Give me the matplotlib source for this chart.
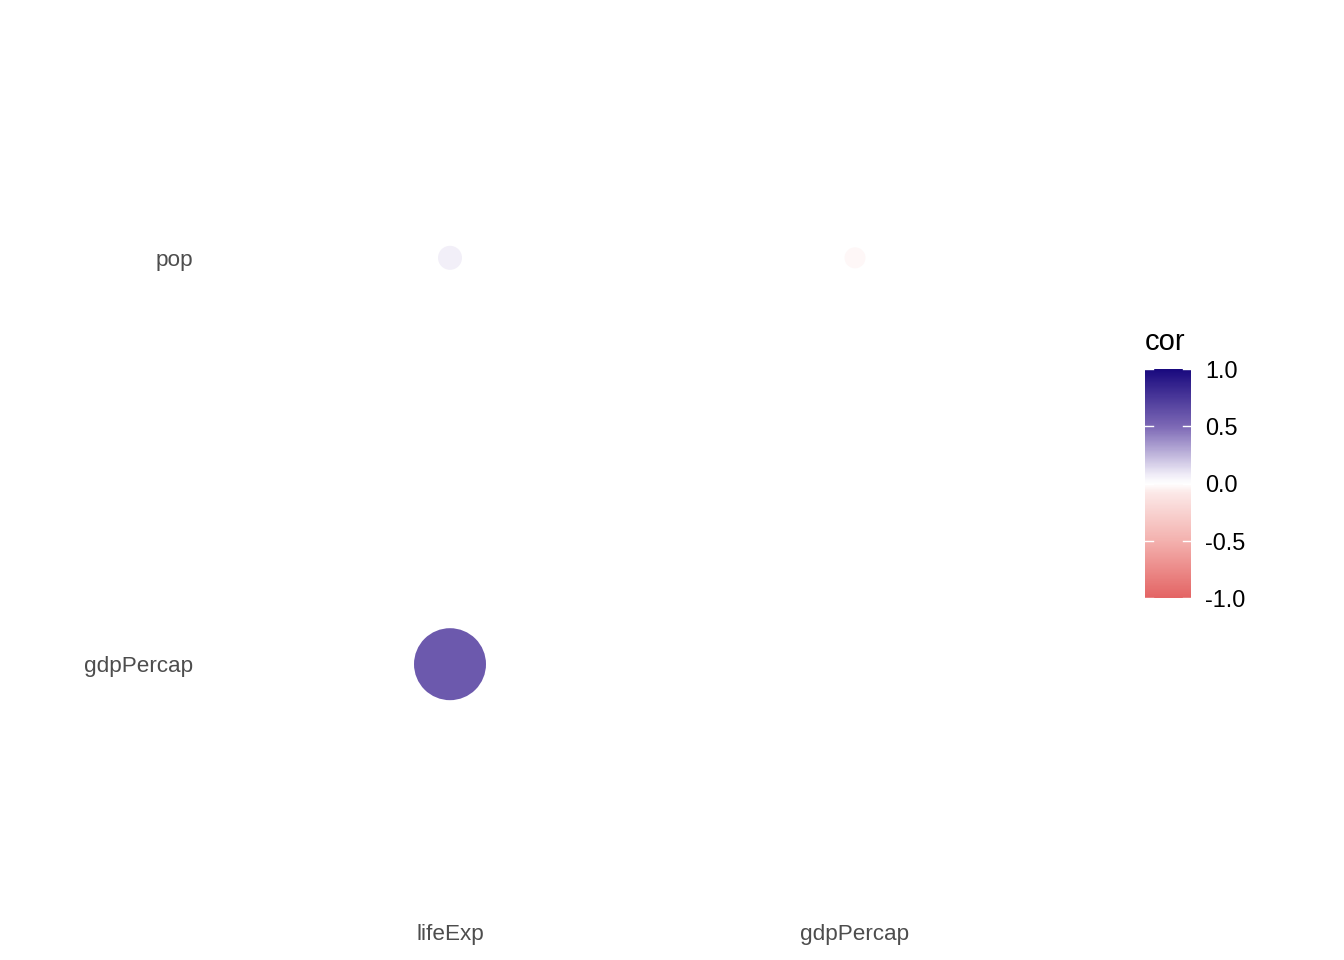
import numpy as np
import matplotlib
matplotlib.use("Agg")
import matplotlib.pyplot as plt
from matplotlib.colors import LinearSegmentedColormap, Normalize

plt.rcParams['font.family'] = ['Liberation Sans', 'DejaVu Sans']

# correlation pairs (gapminder)
x_labels = ["lifeExp", "gdpPercap"]
y_labels = ["gdpPercap", "pop"]
pair_x = ["lifeExp", "gdpPercap", "lifeExp"]
pair_y = ["pop", "pop", "gdpPercap"]
cor = np.array([0.065, -0.026, 0.584])

ticks = [-1.0, -0.5, 0.0, 0.5, 1.0]

cmap = LinearSegmentedColormap.from_list(
    "cor", [(0.0, "#E46565"), (0.25, "#F4B2AF"), (0.46, "#FCE9E8"),
            (0.5, "#FFFFFF"), (0.54, "#EFECF7"),
            (0.75, "#7D69B6"), (1.0, "#1A0A7F")])
norm = Normalize(-1, 1)

W, H = 1344, 960
fig = plt.figure(figsize=(W / 100, H / 100), dpi=100)
ax = fig.add_axes([207 / W, 52 / H, (1098 - 207) / W, (908 - 14) / H])

xi = [x_labels.index(v) for v in pair_x]
yi = [y_labels.index(v) for v in pair_y]
sizes = np.maximum(228, 4600 * np.abs(cor))
ax.scatter(xi, yi, s=sizes, c=cor, cmap=cmap, norm=norm, linewidths=0, zorder=3)

ax.set_xlim(-0.6, 1.6)
ax.set_ylim(-0.6, 1.6)
ax.set_xticks(range(len(x_labels)))
ax.set_xticklabels(x_labels)
ax.set_yticks(range(len(y_labels)))
ax.set_yticklabels(y_labels)
ax.tick_params(length=0, labelsize=16.2, labelcolor="#4D4D4D")
ax.tick_params(axis='x', pad=11.5)
ax.tick_params(axis='y', pad=10)
for s in ax.spines.values():
    s.set_visible(False)

# colourbar
cax = fig.add_axes([1145 / W, (H - 598) / H, 46 / W, 229 / H])
grad = np.linspace(-1, 1, 300).reshape(-1, 1)
cax.imshow(grad, cmap=cmap, norm=norm, aspect='auto', origin='lower',
           extent=[0, 1, -1, 1])
cax.set_xlim(0, 1)
cax.set_ylim(-1, 1)
for t in ticks:
    cax.plot([0, 0.18], [t, t], color="white", lw=1)
    cax.plot([0.82, 1], [t, t], color="white", lw=1)
cax.set_xticks([])
cax.yaxis.tick_right()
cax.set_yticks(ticks)
cax.set_yticklabels([f"{t:.1f}" for t in ticks])
cax.tick_params(length=0, labelsize=16.9, pad=10)
for s in cax.spines.values():
    s.set_visible(False)
fig.text(1145 / W, (H - 342) / H, "cor", fontsize=21, va='center', ha='left')

fig.savefig("out.png", dpi=100, facecolor="white")
